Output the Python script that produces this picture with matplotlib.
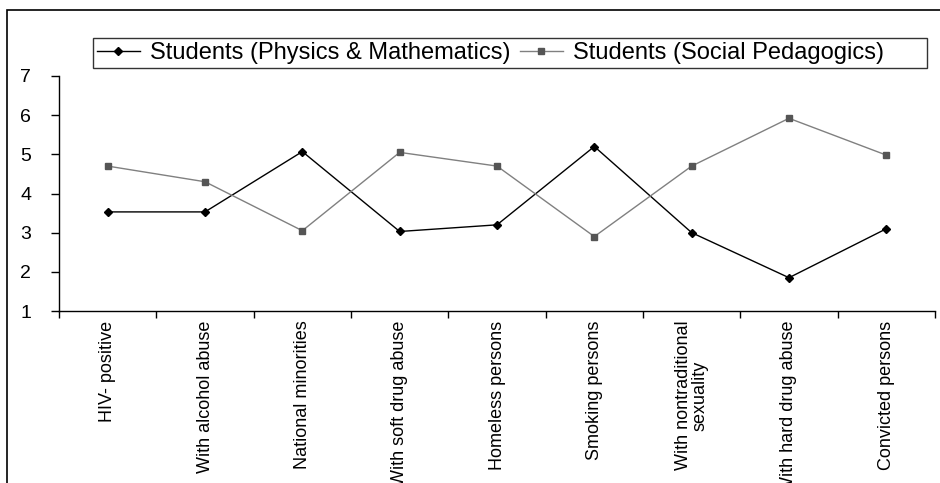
import matplotlib
matplotlib.use("Agg")
import matplotlib.pyplot as plt
import numpy as np
from matplotlib.patches import Rectangle

plt.rcParams['font.family'] = ['Liberation Sans', 'DejaVu Sans']

categories = ["HIV- positive", "With alcohol abuse", "National minorities",
              "With soft drug abuse", "Homeless persons", "Smoking persons",
              "With nontraditional\nsexuality", "With hard drug abuse",
              "Convicted persons"]
phys_math = [3.53, 3.53, 5.07, 3.03, 3.2, 5.2, 3.0, 1.85, 3.1]
social_ped = [4.7, 4.3, 3.05, 5.05, 4.7, 2.9, 4.7, 5.92, 4.98]

fig = plt.figure(figsize=(9.4, 4.83), dpi=100)
ax = fig.add_axes([59/940, 1-311/483, 876/940, 235/483])

x = np.arange(len(categories))
ax.plot(x, phys_math, color='black', lw=1, marker='D', ms=4.5,
        label='Students (Physics & Mathematics)')
ax.plot(x, social_ped, color='#808080', lw=1, marker='s', ms=5,
        mfc='#555555', mec='#555555', label='Students (Social Pedagogics)      ')

ax.set_xlim(-0.5, len(categories) - 0.5)
ax.set_ylim(1, 7)
ax.set_yticks(range(1, 8))
ax.tick_params(axis='y', labelsize=14, direction='out', length=6, width=1, pad=14)

ax.set_xticks(x)
ax.set_xticklabels(categories, rotation=90, fontsize=13, va='top', ha='center',
                   linespacing=1.0)
ax.set_xticks(np.arange(len(categories) + 1) - 0.5, minor=True)
ax.tick_params(axis='x', which='major', length=0, pad=7)
ax.tick_params(axis='x', which='minor', length=5, width=1, direction='out')

for s in ['top', 'right']:
    ax.spines[s].set_visible(False)
for s in ['left', 'bottom']:
    ax.spines[s].set_linewidth(1)

leg = fig.legend(loc='center left', bbox_to_anchor=(93/940, 1-53/483), ncol=2,
                 fontsize=17, frameon=True, fancybox=False, handlelength=1.85,
                 handletextpad=0.4, columnspacing=0.4, borderpad=0.15,
                 borderaxespad=0)
leg.get_frame().set_edgecolor('black')
leg.get_frame().set_linewidth(1)

# outer chart-area border
fig.patches.append(Rectangle((7/940, -0.2), 1.2, 1.2 - 10/483,
                             transform=fig.transFigure, fill=False,
                             edgecolor='black', lw=1.2, clip_on=False))

fig.savefig('out.png', dpi=100)
